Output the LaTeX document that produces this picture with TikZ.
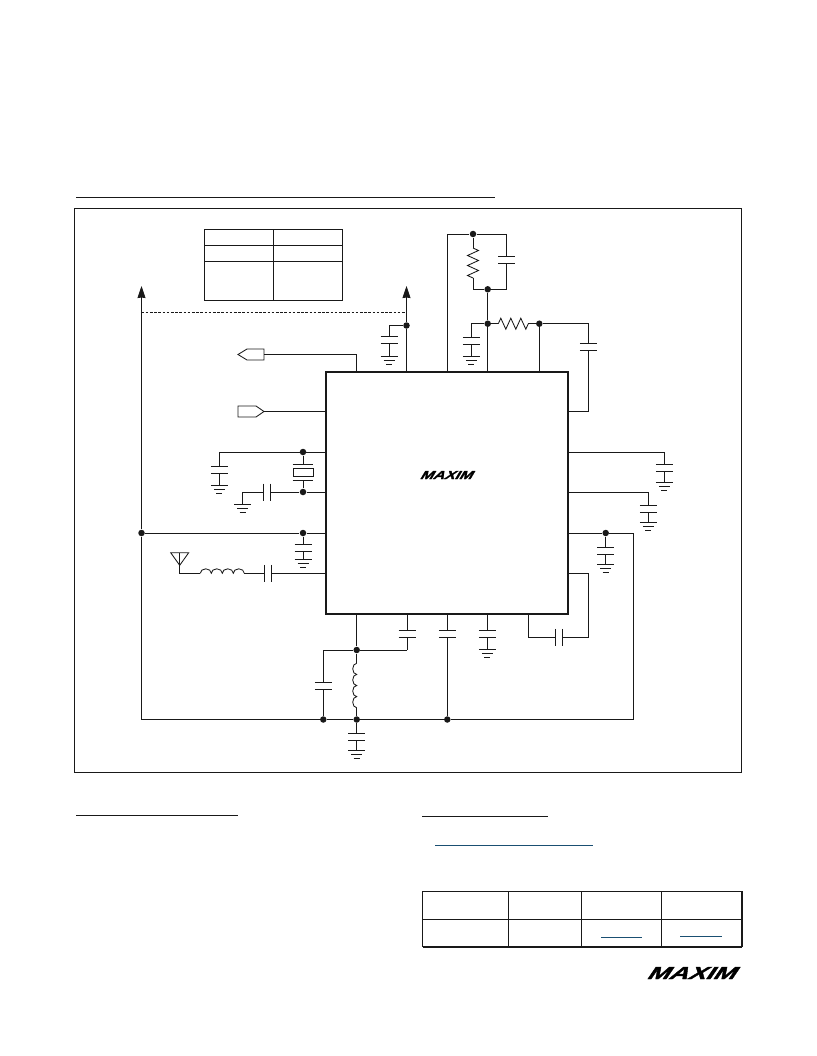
\documentclass[tikz,border=0pt]{standalone}
\usepackage{fontspec}
\usepackage{tikz}
\usetikzlibrary{arrows.meta, decorations.pathmorphing}
\newfontfamily\logofont[BoldFeatures={FakeSlant=0.45,FakeBold=1.5}]{Liberation Sans}
\definecolor{linkblue}{HTML}{1A4F72}

\tikzset{
  capv/.pic={\draw (-8.5,-3.5) -- (8.5,-3.5) (-8.5,3.5) -- (8.5,3.5);
             \coordinate (-a) at (0,-3.5); \coordinate (-b) at (0,3.5);},
  caph/.pic={\draw (-3.5,-8.5) -- (-3.5,8.5) (3.5,-8.5) -- (3.5,8.5);
             \coordinate (-a) at (-3.5,0); \coordinate (-b) at (3.5,0);},
  gnd/.pic={\draw (-8.5,0) -- (8.5,0) (-5.5,4) -- (5.5,4) (-3,8) -- (3,8);},
}

\begin{document}
\begin{tikzpicture}[x=1pt,y=-1pt,line width=0.85pt,color=black!90,
    dot/.style={circle,fill,inner sep=0pt,minimum size=6.5pt},
    chip/.style={draw,line width=2.5pt,fill=white,inner sep=0pt,outer sep=0pt,minimum size=242pt},
    grid box/.style={draw,inner sep=0pt,outer sep=0pt},
    res/.style={decorate,decoration={zigzag,segment length=10pt,amplitude=5.5pt}},
    uplink/.style={draw=linkblue},
    up arrow/.style={-{Stealth[length=12pt,width=8pt,inset=0.5pt]}},
    logo/.style={inner sep=0pt,outer sep=0pt}]
  \useasboundingbox (0,0) rectangle (816,1056);

  % heading rules
  \coordinate (h1a) at (76,197.5);   \coordinate (h1b) at (495,197.5);
  \coordinate (h2a) at (76,815);     \coordinate (h2b) at (238,815);
  \coordinate (h3a) at (422,816);    \coordinate (h3b) at (548,816);
  \draw (h1a) -- (h1b) (h2a) -- (h2b) (h3a) -- (h3b);

  % frame and chip
  \node[grid box,minimum width=667pt,minimum height=563.5pt] (frame) at (408,490.25) {};
  \node[chip] (ic) at (447,493) {};

  % small table
  \node[grid box,minimum width=138pt,minimum height=70.5pt] (modes) at (273.5,264.75) {};
  \draw (modes.north) -- (modes.south);
  \coordinate (row1) at (0,245); \coordinate (row2) at (0,261);
  \draw (modes.west |- row1) -- (modes.east |- row1);
  \draw (modes.west |- row2) -- (modes.east |- row2);

  % supply rails
  \coordinate (railL) at (141.5,286);
  \coordinate (railR) at (406.5,286);
  \node[dot] (jvcc) at (406.5,325.5) {};
  \node[dot] (jleft) at (141.5,533) {};
  \coordinate (cornerBL) at (141.5,719.5);
  \draw (cornerBL) -- (jleft);
  \draw[up arrow] (jleft) -- (railL);
  \draw (jvcc |- ic.north) -- (jvcc);
  \draw[up arrow] (jvcc) -- (railR);
  \coordinate (dashL) at (141.5,312.5);
  \draw[dashed,dash pattern=on 2.6pt off 1.6pt,line width=0.7pt] (dashL) -- (dashL -| jvcc);

  % supply bypass
  \path (389,340) pic (c1) {capv};
  \path (389,356.3) pic (g1) {gnd};
  \draw (jvcc) -| (c1-a);
  \draw (c1-b) -- (389,356.3);

  % ports
  \coordinate (pa) at (264,354.5);
  \coordinate (pb) at (356.5,354.5);
  \draw (238,354.5) -- (247,349) -- (pa |- 0,349) -- (pa |- 0,360) -- (247,360) -- cycle;
  \draw (pa) -- (pb) -- (pb |- ic.north);
  \coordinate (qa) at (264,411.5);
  \draw (238,406) -- (256,406) -- (qa) -- (256,417) -- (238,417) -- cycle;
  \draw (qa) -- (qa -| ic.west);

  % crystal
  \node[dot] (jx1) at (303,452) {};
  \node[dot] (jx2) at (303,492) {};
  \node[grid box,fill=white,minimum width=20pt,minimum height=8pt] (xtal) at (303,472.5) {};
  \coordinate (xp1) at (303,464);
  \coordinate (xp2) at (303,480.5);
  \draw (292.5,464) -- (313,464) (292.5,480.5) -- (313,480.5);
  \draw (jx1) -- (xp1) (xp2) -- (jx2);
  \coordinate (c2top) at (219.3,452);
  \draw (c2top) -- (c2top -| ic.west);
  \path (219.3,469.5) pic (c2) {capv};
  \path (219.3,485) pic (g2) {gnd};
  \draw (c2top) -- (c2-a) (c2-b) -- (219.3,485);
  \draw (jx2) -- (jx2 -| ic.west);
  \path (266.7,492) pic (c3) {caph};
  \path (242.7,504.5) pic (g3) {gnd};
  \coordinate (c3g) at (242.7,504.5);
  \draw (jx2) -- (c3-b);
  \draw (c3-a) -| (c3g);

  % rail tap
  \node[dot] (jt) at (303,533) {};
  \draw (jleft) -- (jt) -- (jt -| ic.west);
  \path (303,548) pic (c4) {capv};
  \path (303,559.3) pic (g4) {gnd};
  \draw (jt) -- (c4-a) (c4-b) -- (303,559.3);

  % antenna
  \coordinate (ant) at (179.7,565.3);
  \coordinate (antf) at (179.7,573.3);
  \coordinate (l1a) at (200.3,573.3);
  \draw (170.7,552.7) -- (188.7,552.7) -- (ant) -- cycle;
  \draw (179.7,552.7) -- (antf) -- (l1a);
  \draw (l1a) \foreach \k in {1,...,4} {arc[start angle=180,end angle=0,x radius=5.5pt,y radius=4.5pt]} coordinate (l1b);
  \path (268.3,573.3) pic (c5) {caph};
  \draw (l1b) -- (c5-a) (c5-b) -- (c5-b -| ic.west);

  % loop filter
  \coordinate (ftop) at (447.3,234);
  \coordinate (fright) at (506.7,234);
  \node[dot] (jf1) at (473,234) {};
  \draw (ftop |- ic.north) -- (ftop) -- (jf1) -- (fright);
  \coordinate (r1a) at (473,248); \coordinate (r1b) at (473,278.3);
  \node[dot] (jf2) at (487.7,289.3) {};
  \draw (jf1) -- (r1a) (r1b) |- (jf2);
  \draw[res] (r1a) -- (r1b);
  \path (506.7,260) pic (c6) {capv};
  \draw (fright) -- (c6-a);
  \draw (c6-b) |- (jf2);
  \node[dot] (jf3) at (487.7,323.7) {};
  \draw (jf2) -- (jf3) -- (jf3 |- ic.north);
  \path (471.3,340.8) pic (c7) {capv};
  \path (471.3,356.3) pic (g7) {gnd};
  \draw (jf3) -| (c7-a);
  \draw (c7-b) -- (471.3,356.3);
  \coordinate (r2a) at (498.3,323.7); \coordinate (r2b) at (528.3,323.7);
  \node[dot] (jf4) at (539.3,323.7) {};
  \draw (jf3) -- (r2a) (r2b) -- (jf4) -- (jf4 |- ic.north);
  \draw[res] (r2a) -- (r2b);
  \path (588.3,346.6) pic (c8) {capv};
  \coordinate (c8d) at (588.3,411.7);
  \draw (jf4) -| (c8-a);
  \draw (c8-b) -- (c8d) -- (c8d -| ic.east);

  % right side pins
  \coordinate (p1) at (664.3,452.3);
  \draw (p1 -| ic.east) -- (p1);
  \path (664.3,468.3) pic (c9) {capv};
  \path (664.3,482.3) pic (g9) {gnd};
  \draw (p1) -- (c9-a) (c9-b) -- (664.3,482.3);
  \coordinate (p2) at (648.3,492.3);
  \draw (p2 -| ic.east) -- (p2);
  \path (648.3,508.7) pic (c10) {capv};
  \path (648.3,522.3) pic (g10) {gnd};
  \draw (p2) -- (c10-a) (c10-b) -- (648.3,522.3);
  \node[dot] (jr) at (605.7,533) {};
  \coordinate (cornerTR) at (633,533);
  \coordinate (cornerBR) at (633,719.5);
  \draw (jr -| ic.east) -- (jr) -- (cornerTR) -- (cornerBR);
  \path (605.7,550.8) pic (c11) {capv};
  \path (605.7,564.3) pic (g11) {gnd};
  \draw (jr) -- (c11-a) (c11-b) -- (605.7,564.3);
  \coordinate (p3) at (588.3,573.3);
  \coordinate (p3b) at (588.3,637.3);
  \coordinate (p3c) at (528.3,637.3);
  \path (558.5,637.3) pic (c12) {caph};
  \draw (p3 -| ic.east) -- (p3) -- (p3b) -- (c12-b);
  \draw (c12-a) -- (p3c) -- (p3c |- ic.south);

  % bottom pins
  \node[dot] (jb1) at (356.7,650) {};
  \coordinate (b1) at (407,650);
  \coordinate (b2) at (323.3,650);
  \node[dot] (jb2) at (323.3,719.5) {};
  \node[dot] (jb3) at (356.7,719.5) {};
  \node[dot] (jb4) at (447.3,719.5) {};
  \draw (jb1 |- ic.south) -- (jb1) -- (b1);
  \path (407,634) pic (c13) {capv};
  \draw (b1) -- (c13-b) (c13-a) -- (c13-a |- ic.south);
  \path (323.3,685.7) pic (c14) {capv};
  \draw (jb1) -- (b2) -- (c14-a) (c14-b) -- (jb2);
  \coordinate (l2a) at (356.7,663.3);
  \draw (jb1) -- (l2a);
  \draw (l2a) \foreach \k in {1,...,4} {arc[start angle=90,end angle=270,x radius=4pt,y radius=5.55pt]} coordinate (l2b);
  \draw (l2b) -- (jb3);
  \path (356.7,736.7) pic (c15) {capv};
  \path (356.7,750.3) pic (g15) {gnd};
  \draw (jb3) -- (c15-a) (c15-b) -- (356.7,750.3);
  \path (447.3,634.3) pic (c16) {capv};
  \draw (c16-a) -- (c16-a |- ic.south);
  \draw (c16-b) -- (jb4);
  \path (487.3,634.3) pic (c17) {capv};
  \path (487.3,649.3) pic (g17) {gnd};
  \draw (c17-a) -- (c17-a |- ic.south);
  \draw (c17-b) -- (487.3,649.3);
  \draw (cornerBL) -- (jb2) -- (jb3) -- (jb4) -- (cornerBR);

  % ordering table
  \node[grid box,line width=1.1pt,minimum width=319.5pt,minimum height=55.4pt] (order) at (582.25,919) {};
  \draw[line width=2.2pt] (order.north east) -- (order.south east);
  \draw[line width=1.8pt] (order.south west) -- (order.south east);
  \draw (order.west) -- (order.east);
  \foreach \cx/\cn in {508.3/c1,581.3/c2,661.3/c3} {
    \coordinate (col\cn) at (\cx,919);
    \draw (col\cn |- order.north) -- (col\cn |- order.south);
  }

  % link underlines
  \coordinate (u1a) at (435,845);   \coordinate (u1b) at (593.3,845);
  \coordinate (u2a) at (601,937);   \coordinate (u2b) at (642,937);
  \coordinate (u3a) at (680.3,936); \coordinate (u3b) at (721.7,936);
  \draw[uplink] (u1a) -- (u1b) (u2a) -- (u2b) (u3a) -- (u3b);

  % logos
  \node[logo,text=black] (logoic) at (445.5,475) {\resizebox{52pt}{8pt}{\logofont\bfseries MAXIM}};
  \node[logo,text=black] (logopage) at (690,973) {\resizebox{88pt}{12pt}{\logofont\bfseries MAXIM}};
\end{tikzpicture}
\end{document}
